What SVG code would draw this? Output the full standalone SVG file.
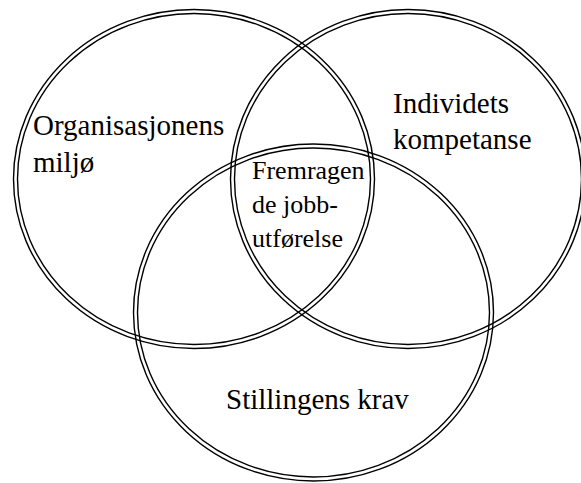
<svg xmlns="http://www.w3.org/2000/svg" width="581" height="483" viewBox="0 0 581 483">
<style>
.o{fill:none;stroke:#000;stroke-width:1.4}
.t{font-family:"Liberation Serif","Times New Roman",serif;fill:#000}
.big{font-size:29px}
.mid{font-size:26px}
</style>
<rect width="581" height="483" fill="#fff"/>
<g id="org">
<ellipse class="o" cx="194" cy="179" rx="180.5" ry="169.5"/>
<ellipse class="o" cx="194" cy="179" rx="176.5" ry="165.5"/>
<text class="t big" x="33" y="135">Organisasjonens</text>
<text class="t big" x="33" y="172">miljø</text>
</g>
<g id="ind">
<ellipse class="o" cx="408" cy="179" rx="177.5" ry="169.5"/>
<ellipse class="o" cx="408" cy="179" rx="173.5" ry="165.5"/>
<text class="t big" x="393" y="113">Individets</text>
<text class="t big" x="393" y="149">kompetanse</text>
</g>
<g id="krav">
<ellipse class="o" cx="313.5" cy="312.5" rx="180" ry="168.5"/>
<ellipse class="o" cx="313.5" cy="312.5" rx="176" ry="164.5"/>
<text class="t big" x="226" y="409">Stillingens krav</text>
</g>
<g id="center">
<text class="t mid" x="252" y="179">Fremragen</text>
<text class="t mid" x="252" y="213">de jobb-</text>
<text class="t mid" x="252" y="247">utførelse</text>
</g>
<g id="connectors"></g>
</svg>
